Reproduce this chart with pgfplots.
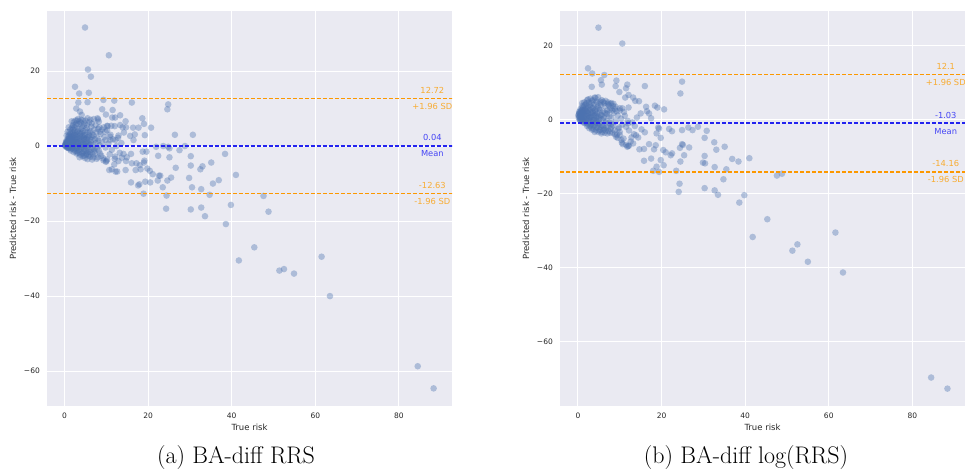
\documentclass[border=0pt]{standalone}
\usepackage{fontspec}
\usepackage{pgfplots}
\pgfplotsset{compat=1.18}
\newfontfamily\dejavu{DejaVu Sans}
\definecolor{bgcol}{HTML}{EAEAF2}
\definecolor{txtcol}{HTML}{262626}
\definecolor{ptcol}{HTML}{4C72B0}
\definecolor{sdcol}{RGB}{252,152,0}
\definecolor{sdtext}{RGB}{248,172,50}
\definecolor{mcol}{RGB}{35,35,240}
\definecolor{mtext}{RGB}{70,70,245}

\tikzset{
  ann/.style={font=\dejavu\fontsize{8.3}{10}\selectfont, anchor=center},
  limline/.style={color=sdcol, line width=1.6pt, dash pattern=on 4.2pt off 1.8pt},
  meanline/.style={color=mcol, line width=1.5pt, dash pattern=on 4.2pt off 1.8pt},
}
\pgfplotsset{
  baplot/.style={
    scale only axis, width=405pt, height=395pt,
    axis background/.style={fill=bgcol},
    axis line style={draw=none},
    major tick length=0pt,
    grid=major, grid style={white, line width=1pt},
    xtick={0,20,40,60,80},
    xticklabels={0,20,40,60,80},
    ytick={-60,-40,-20,0,20},
    yticklabels={−60,−40,−20,0,20},
    tick label style={font=\dejavu\fontsize{7.5}{9}\selectfont, text=txtcol, inner sep=0pt},
    xticklabel style={yshift=-6.5pt},
    yticklabel style={xshift=-7pt},
    label style={font=\dejavu\fontsize{8.5}{10}\selectfont, text=txtcol},
    xlabel={True risk},
    ylabel={Predicted risk - True risk},
    xlabel style={at={(axis description cs:0.5,0)}, anchor=center, yshift=-21pt},
    ylabel style={at={(axis description cs:0,0.5)}, anchor=center, yshift=34pt},
    clip mode=individual,
  },
  pts/.style={only marks, mark=*, mark size=3.3pt, color=ptcol,
    mark options={line width=0pt, draw opacity=0, fill opacity=0.38}},
}

\begin{document}
\begin{tikzpicture}
\path[use as bounding box] (0,0) rectangle (965pt,472pt);

% left panel: BA-diff RRS
\begin{axis}[baplot, at={(47pt,66pt)}, anchor=south west,
    xmin=-4.2, xmax=92.7, ymin=-69.3, ymax=36]
\addplot[pts] table {
x y
4.9 31.6
10.6 24.2
5.6 20.4
6.3 18.5
2.5 15.8
3.5 14.0
5.8 14.2
3.3 11.6
5.5 11.7
9.3 12.3
11.9 12.1
16.1 11.6
24.8 11.1
24.6 9.8
2.8 10.0
3.7 9.2
4.1 8.3
9.0 9.8
11.5 9.6
9.9 8.4
13.3 8.2
11.4 7.6
12.1 7.6
14.6 6.6
18.6 7.4
19.0 5.9
20.7 4.9
16.4 4.9
17.7 4.9
12.0 5.3
13.3 5.6
10.3 5.3
13.9 5.0
14.7 5.0
8.2 6.5
7.9 7.4
5.5 7.4
26.4 3.0
30.7 3.0
19.2 2.9
16.8 3.1
15.7 2.7
14.2 3.6
12.9 2.8
10.9 2.5
9.8 3.8
8.5 3.8
16.5 1.6
12.2 1.6
10.9 1.6
9.8 1.6
23.6 0.0
24.8 -0.2
28.8 0.0
21.9 -0.2
25.1 -0.6
27.5 -1.1
19.6 -1.5
18.7 -1.5
22.4 -2.6
25.1 -3.0
30.2 -2.7
38.4 -2.1
14.1 -2.1
14.9 -3.0
15.9 -2.1
17.2 -4.6
18.0 -5.1
19.0 -4.4
19.1 -3.9
19.8 -6.0
20.4 -6.6
21.1 -7.5
22.6 -7.9
22.9 -7.9
25.5 -8.4
22.3 -9.2
24.6 -9.2
26.6 -5.8
30.2 -5.2
33.0 -5.4
32.5 -6.2
35.1 -4.4
29.8 -8.5
36.9 -9.1
35.5 -10.0
30.5 -11.0
32.7 -11.5
41.0 -7.7
23.5 -11.0
24.4 -13.2
34.7 -13.0
47.6 -13.3
48.8 -17.5
24.3 -16.7
30.2 -16.9
32.7 -16.4
33.6 -18.7
39.8 -15.7
38.6 -20.8
45.4 -27.0
41.7 -30.5
51.4 -33.2
52.5 -32.8
54.9 -34.0
61.5 -29.5
63.5 -40.0
84.5 -58.7
88.3 -64.6
15.9 -9.7
17.9 -10.2
17.6 -10.5
18.9 -12.7
19.3 -9.5
20.5 -9.7
10.7 -6.4
11.3 -6.2
12.2 -6.8
12.6 -6.8
14.6 -6.4
16.1 -4.6
17.0 -6.4
18.2 -6.2
11.9 -4.9
12.9 -4.0
13.7 -3.1
14.7 -4.0
9.9 -4.2
10.2 -3.6
9.3 -3.3
12.1 -2.8
0.1 0.1
0.2 0.3
0.3 0.0
0.4 0.6
0.5 0.2
0.6 1.0
0.7 -0.1
0.8 0.5
0.9 1.4
1.0 0.2
1.0 2.0
0.5 1.5
0.3 0.8
0.8 -0.3
1.1 3.0
1.2 0.9
1.3 -0.4
1.4 1.8
1.5 2.6
1.6 0.4
1.7 3.6
1.8 -0.6
1.9 1.2
2.0 4.4
2.0 2.2
2.1 0.0
2.2 -0.9
2.3 3.0
2.4 5.0
2.5 1.5
2.6 -1.3
2.7 0.6
2.8 2.4
2.9 6.0
3.0 3.8
3.0 -0.5
3.1 1.0
3.2 -1.8
3.3 4.6
3.4 2.0
3.5 0.2
3.6 6.6
3.7 -2.3
3.8 3.2
3.9 1.4
4.0 -0.8
4.1 5.2
4.2 2.6
4.3 -2.7
4.4 0.6
4.5 4.0
4.6 -1.5
4.7 1.8
4.8 6.0
4.9 -3.2
5.0 3.0
5.1 0.0
5.2 -2.0
5.3 4.8
5.4 1.2
5.5 -3.5
5.6 2.4
5.8 -1.0
6.0 3.6
6.1 0.4
6.2 -2.8
6.4 5.2
6.5 1.6
6.6 -3.6
6.8 -0.6
7.0 2.8
7.1 4.4
7.3 -2.0
7.5 0.8
7.7 -3.4
7.9 2.0
8.0 4.6
8.2 -1.2
8.4 0.2
8.6 3.2
8.8 -2.6
9.0 1.0
9.3 -3.8
9.5 2.4
9.8 -0.4
10.0 -4.0
10.2 4.2
10.5 0.6
10.8 -2.2
11.0 3.0
11.3 -1.0
11.6 1.8
12.0 -3.4
12.4 0.0
12.8 2.2
13.2 -1.8
13.6 0.8
0.2 0.5
0.4 -0.2
0.6 0.3
0.7 1.2
0.9 0.0
1.1 0.7
1.2 -0.2
1.3 2.2
1.5 0.0
1.6 1.4
1.8 0.8
1.9 2.8
2.2 1.2
2.4 0.3
2.6 3.4
2.8 -0.4
3.0 1.8
3.2 0.6
3.4 -1.0
3.6 2.8
3.8 -0.2
4.0 1.0
4.2 3.6
4.4 -1.8
4.6 2.2
4.8 0.4
5.0 -1.2
5.2 1.8
5.4 -0.4
5.6 0.8
5.8 2.8
6.0 -1.6
6.3 1.0
6.7 3.0
7.2 -0.8
1.4 4.4
2.0 5.6
2.6 6.8
3.2 7.2
4.0 7.0
1.0 5.0
1.7 6.6
0.7 3.8
0.5 2.8
2.9 -2.0
3.6 -3.0
4.6 -2.6
5.7 -2.6
6.9 -3.0
8.0 -3.0
1.5 -0.8
0.9 -0.5
7.0 7.2
6.2 7.0
5.0 6.8
8.0 7.1
7.4 5.6
9.4 5.0
10.2 5.4
11.2 5.4
8.3 5.0
9.0 4.4
6.5 6.0
0.3 0.4
0.5 1.0
0.6 -0.4
0.8 1.8
1.0 -0.6
1.1 2.4
1.2 1.4
1.3 0.4
1.4 3.2
1.5 -1.2
1.6 2.0
1.7 0.9
1.8 4.8
1.9 -0.2
2.0 1.6
2.1 3.6
2.2 -1.6
2.3 0.8
2.4 2.8
2.5 4.2
2.5 -0.6
2.6 1.9
2.7 5.6
2.8 1.0
2.9 3.0
3.0 -1.4
3.1 2.4
3.2 4.0
3.3 0.0
3.4 5.8
3.5 1.3
3.6 -1.6
3.7 3.6
3.8 2.0
3.9 -0.4
4.0 4.6
4.1 0.4
4.2 -2.0
4.3 1.6
4.4 3.0
4.5 -0.2
4.6 5.4
4.7 -0.8
4.8 2.6
4.9 1.0
5.0 4.2
5.1 -2.4
5.2 0.6
5.3 2.2
5.5 -1.6
5.6 3.8
5.8 0.2
5.9 -2.2
6.0 1.8
6.2 4.0
6.3 -1.0
6.5 2.4
6.7 -2.2
6.9 0.4
7.1 -1.4
7.3 1.8
7.6 3.6
7.8 -0.6
8.1 1.4
8.5 -2.0
0.4 1.2
0.7 0.6
0.9 2.6
1.2 3.8
1.9 5.2
2.2 6.4
3.0 6.8
3.9 6.2
4.4 6.8
5.4 5.6
5.9 6.4
};
\addplot[limline] coordinates {(-10,12.72) (100,12.72)};
\addplot[meanline] coordinates {(-10,0.04) (100,0.04)};
\addplot[limline] coordinates {(-10,-12.63) (100,-12.63)};
\node[ann, text=sdtext, yshift=8pt] at (axis cs:88,12.72) {12.72};
\node[ann, text=sdtext, yshift=-8pt] at (axis cs:88,12.72) {+1.96 SD};
\node[ann, text=mtext, yshift=8pt] at (axis cs:88,0.04) {0.04};
\node[ann, text=mtext, yshift=-8pt] at (axis cs:88,0.04) {Mean};
\node[ann, text=sdtext, yshift=8pt] at (axis cs:88,-12.63) {-12.63};
\node[ann, text=sdtext, yshift=-8pt] at (axis cs:88,-12.63) {-1.96 SD};
\end{axis}

% right panel: BA-diff log(RRS)
\begin{axis}[baplot, at={(560pt,66pt)}, anchor=south west,
    xmin=-4.3, xmax=92.6, ymin=-77.5, ymax=29.3]
\addplot[pts] table {
x y
4.9 24.8
10.6 20.5
2.4 13.8
3.4 12.4
6.3 12.0
5.5 10.6
5.7 9.4
3.3 8.8
9.2 10.5
9.0 9.0
11.8 9.4
16.0 9.0
24.9 10.2
24.5 7.0
9.9 7.4
11.5 8.4
12.1 6.6
11.3 5.9
13.2 5.9
14.6 4.9
13.7 5.0
4.0 5.9
5.4 4.8
16.3 3.4
18.4 3.7
19.0 3.2
20.6 2.7
12.1 3.2
10.0 3.0
15.0 1.6
17.0 1.6
16.5 2.2
17.5 0.3
14.1 0.5
21.8 -2.6
22.5 -3.2
24.9 -2.9
26.4 -2.2
27.4 -2.9
28.7 -2.0
30.8 -3.1
19.2 -2.2
19.4 -2.5
18.8 -3.8
19.8 -5.0
30.3 -5.0
32.6 -6.2
33.1 -8.2
35.1 -7.4
26.6 -7.6
24.9 -6.7
25.1 -6.9
24.4 -7.7
25.4 -9.7
30.3 -9.9
36.9 -10.7
38.4 -11.4
41.0 -10.5
29.9 -11.7
30.4 -11.9
32.7 -12.9
35.5 -13.5
23.5 -13.9
24.5 -11.4
20.4 -8.3
21.0 -8.9
22.5 -9.2
22.2 -9.7
19.8 -11.0
20.5 -12.4
18.8 -12.8
19.4 -14.2
18.0 -13.9
15.8 -11.2
17.5 -10.6
15.8 -8.0
14.7 -8.1
17.0 -6.7
18.2 -8.1
18.6 -7.0
24.3 -17.4
24.1 -19.6
30.3 -18.6
32.7 -19.2
33.5 -20.4
34.8 -16.2
47.6 -15.2
48.8 -14.7
38.6 -22.5
39.8 -20.5
45.3 -27.0
41.8 -31.8
51.3 -35.5
52.5 -33.8
55.0 -38.5
61.6 -30.6
63.4 -41.4
84.5 -69.8
88.4 -72.8
10.0 -4.2
10.4 -5.6
10.7 -6.7
11.8 -7.4
12.2 -7.1
13.2 -6.5
12.8 -4.9
13.9 -4.3
14.4 -4.9
13.6 -1.8
12.0 -1.1
15.2 -2.7
16.0 -3.5
9.1 -4.7
8.0 -2.0
0.1 1.0
0.2 1.3
0.3 0.8
0.4 1.6
0.5 0.6
0.6 1.2
0.7 2.0
0.8 0.3
0.9 1.6
1.0 0.0
1.0 2.6
1.1 1.0
1.2 3.2
1.3 -0.3
1.4 1.8
1.5 0.6
1.6 2.8
1.7 -0.6
1.8 4.0
1.9 1.4
2.0 -1.0
2.1 2.2
2.2 0.2
2.3 3.6
2.4 -1.4
2.5 1.0
2.6 4.6
2.7 -0.4
2.8 2.6
2.9 -1.8
3.0 0.6
3.1 3.4
3.2 -2.2
3.3 1.6
3.4 5.0
3.5 -0.8
3.6 2.2
3.7 -2.6
3.8 0.0
3.9 4.0
4.0 -1.6
4.1 1.2
4.2 5.8
4.3 -3.0
4.4 2.8
4.5 -0.4
4.6 4.4
4.7 -2.2
4.8 0.8
4.9 -3.4
5.0 3.0
5.1 -1.2
5.2 1.8
5.3 -2.8
5.4 0.2
5.5 3.8
5.6 -3.8
5.8 -1.6
6.0 2.2
6.1 -2.8
6.2 0.6
6.4 -3.6
6.5 3.6
6.6 -0.8
6.8 -2.2
7.0 1.4
7.1 4.2
7.3 -3.2
7.5 -1.0
7.6 2.6
7.8 -2.6
8.0 0.4
8.0 4.4
8.2 -3.6
8.4 -1.6
8.6 1.8
8.8 -3.0
9.0 -0.6
9.3 -4.2
9.5 1.0
9.8 -2.2
10.0 -3.4
10.3 0.2
10.6 -1.4
10.9 -5.2
11.2 1.0
11.5 -2.0
11.9 -0.4
12.2 -3.0
12.6 -6.0
13.0 -0.8
13.4 -4.0
6.3 4.4
7.4 3.8
5.7 5.2
4.8 6.0
2.2 5.2
3.0 5.6
1.5 4.6
0.6 2.8
0.3 2.0
1.2 -0.8
2.0 3.0
2.4 1.8
3.0 -0.2
3.5 3.0
4.0 1.8
4.4 0.4
5.0 -0.6
5.5 1.2
6.0 -1.8
6.8 1.6
1.0 1.8
1.6 0.2
2.7 0.4
3.3 -1.2
4.2 -0.6
0.4 0.0
0.8 -0.2
8.5 4.2
9.0 3.4
10.0 2.4
10.6 3.0
11.0 2.0
9.6 -2.6
7.0 -3.8
7.8 3.0
8.4 3.6
10.5 -6.3
11.5 -6.9
12.0 -7.2
8.8 -4.0
9.5 -5.0
0.2 0.4
0.3 1.6
0.5 2.2
0.6 0.0
0.8 1.0
0.9 2.6
1.0 3.6
1.1 -0.4
1.2 1.6
1.3 2.4
1.4 0.2
1.5 3.8
1.6 -1.0
1.7 1.2
1.8 2.4
1.9 -0.2
2.0 4.4
2.1 0.8
2.2 -1.8
2.3 2.0
2.4 3.0
2.5 -0.8
2.6 1.4
2.7 -2.4
2.8 3.8
2.9 0.4
3.0 2.0
3.1 -1.4
3.2 4.4
3.3 0.6
3.4 -2.8
3.5 1.8
3.6 -0.2
3.7 3.2
3.8 -1.8
3.9 1.0
4.0 -3.4
4.1 2.4
4.2 -1.0
4.3 0.8
4.5 -2.2
4.6 1.6
4.7 3.4
4.8 -1.4
5.0 0.0
5.1 -3.0
5.2 2.6
5.4 -2.0
5.6 1.0
5.8 -3.4
6.0 0.2
6.2 -2.4
6.4 1.8
6.6 -3.0
6.8 -0.4
7.0 2.4
7.2 -2.2
7.5 0.8
7.7 -3.6
8.0 -1.2
0.5 -0.2
1.0 4.4
2.4 5.4
3.6 5.2
4.4 4.8
5.3 4.4
6.0 4.8
6.6 5.0
7.2 4.6
7.8 4.2
8.2 2.4
8.8 2.8
9.2 2.2
};
\addplot[limline] coordinates {(-10,12.1) (100,12.1)};
\addplot[meanline] coordinates {(-10,-1.03) (100,-1.03)};
\addplot[limline] coordinates {(-10,-14.16) (100,-14.16)};
\node[ann, text=sdtext, yshift=8pt] at (axis cs:88,12.1) {12.1};
\node[ann, text=sdtext, yshift=-8pt] at (axis cs:88,12.1) {+1.96 SD};
\node[ann, text=mtext, yshift=8pt] at (axis cs:88,-1.03) {-1.03};
\node[ann, text=mtext, yshift=-8pt] at (axis cs:88,-1.03) {Mean};
\node[ann, text=sdtext, yshift=8pt] at (axis cs:88,-14.16) {-14.16};
\node[ann, text=sdtext, yshift=-8pt] at (axis cs:88,-14.16) {-1.96 SD};
\end{axis}

\node[font=\fontsize{24}{28}\selectfont] at (236pt,14pt) {(a) BA-diff RRS};
\node[font=\fontsize{24}{28}\selectfont] at (746pt,14pt) {(b) BA-diff log(RRS)};
\end{tikzpicture}
\end{document}
